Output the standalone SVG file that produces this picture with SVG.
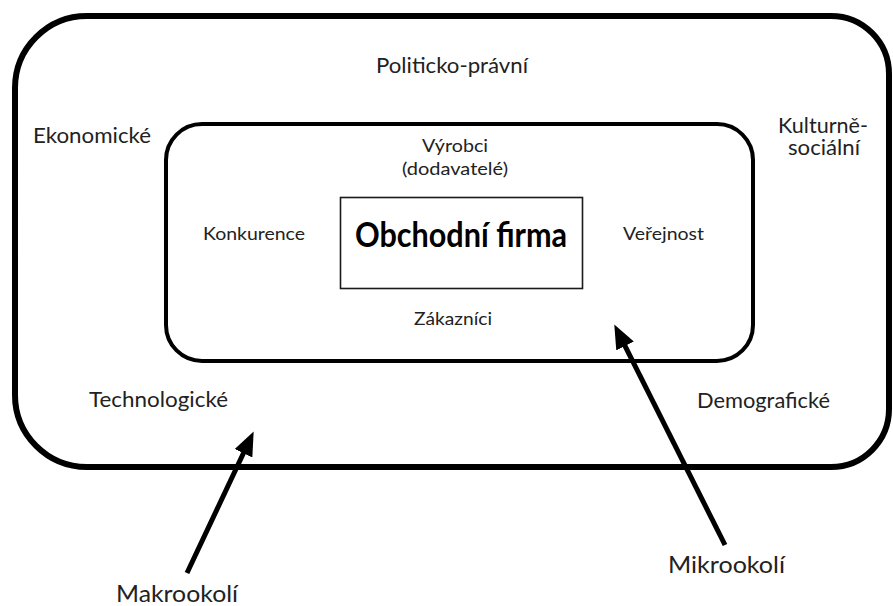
<svg xmlns="http://www.w3.org/2000/svg" width="893" height="606" viewBox="0 0 893 606">
<style>
  .frame { fill: none; stroke: #000; }
  .lbl { font-family: Lato, "Open Sans", "Liberation Sans", sans-serif; fill: #222; }
  .outer { font-size: 20.5px; }
  .inner { font-size: 17.5px; }
  .big { font-size: 23px; }
  .title { font-size: 34px; font-weight: bold; fill: #000; }
  .arrow { stroke: #000; stroke-width: 5; fill: none; marker-end: url(#head); }
</style>
<defs>
  <marker id="head" markerUnits="userSpaceOnUse" markerWidth="24" markerHeight="20" viewBox="0 0 22 18" refX="4" refY="9" orient="auto">
    <path d="M0,0 L22,9 L0,18 z" fill="#000"/>
  </marker>
</defs>
<rect width="893" height="606" fill="#fff"/>

<g id="makrookoli-frame">
  <path class="frame" stroke-width="6" d="M87,16 L831,16 A58,58 0 0 1 889,74 L889,409 A58,58 0 0 1 831,467 L87,467 A72,72 0 0 1 15,395 L15,88 A72,72 0 0 1 87,16 Z"/>
  <text class="lbl outer" x="376" y="73" textLength="152" lengthAdjust="spacingAndGlyphs">Politicko-právní</text>
  <text class="lbl outer" x="33" y="143" textLength="118" lengthAdjust="spacingAndGlyphs">Ekonomické</text>
  <text class="lbl outer" x="778" y="133" textLength="90" lengthAdjust="spacingAndGlyphs">Kulturně-</text>
  <text class="lbl outer" x="788" y="155" textLength="72" lengthAdjust="spacingAndGlyphs">sociální</text>
  <text class="lbl outer" x="89" y="407" textLength="139" lengthAdjust="spacingAndGlyphs">Technologické</text>
  <text class="lbl outer" x="697" y="408" textLength="133" lengthAdjust="spacingAndGlyphs">Demografické</text>
</g>

<g id="mikrookoli-frame">
  <rect class="frame" stroke-width="4" x="166" y="124" width="587" height="237" rx="36" ry="36"/>
  <text class="lbl inner" x="422" y="152" textLength="66" lengthAdjust="spacingAndGlyphs">Výrobci</text>
  <text class="lbl inner" x="402" y="175" textLength="106" lengthAdjust="spacingAndGlyphs">(dodavatelé)</text>
  <text class="lbl inner" x="203" y="240" textLength="102" lengthAdjust="spacingAndGlyphs">Konkurence</text>
  <text class="lbl inner" x="623" y="240" textLength="81" lengthAdjust="spacingAndGlyphs">Veřejnost</text>
  <text class="lbl inner" x="414" y="325" textLength="78" lengthAdjust="spacingAndGlyphs">Zákazníci</text>
</g>

<g id="obchodni-firma">
  <rect x="340.5" y="197.5" width="242" height="91" fill="#fff" stroke="#1a1a1a" stroke-width="1.6"/>
  <text class="lbl title" x="355" y="247" textLength="212" lengthAdjust="spacingAndGlyphs">Obchodní firma</text>
</g>

<g id="connectors">
  <line class="arrow" x1="187" y1="573" x2="245.3" y2="449.3"/>
  <line class="arrow" x1="725" y1="545" x2="623.1" y2="342.1"/>
</g>

<g id="makrookoli-label">
  <text class="lbl big" x="116" y="602" textLength="122" lengthAdjust="spacingAndGlyphs">Makrookolí</text>
</g>
<g id="mikrookoli-label">
  <text class="lbl big" x="668" y="573" textLength="117" lengthAdjust="spacingAndGlyphs">Mikrookolí</text>
</g>
</svg>
